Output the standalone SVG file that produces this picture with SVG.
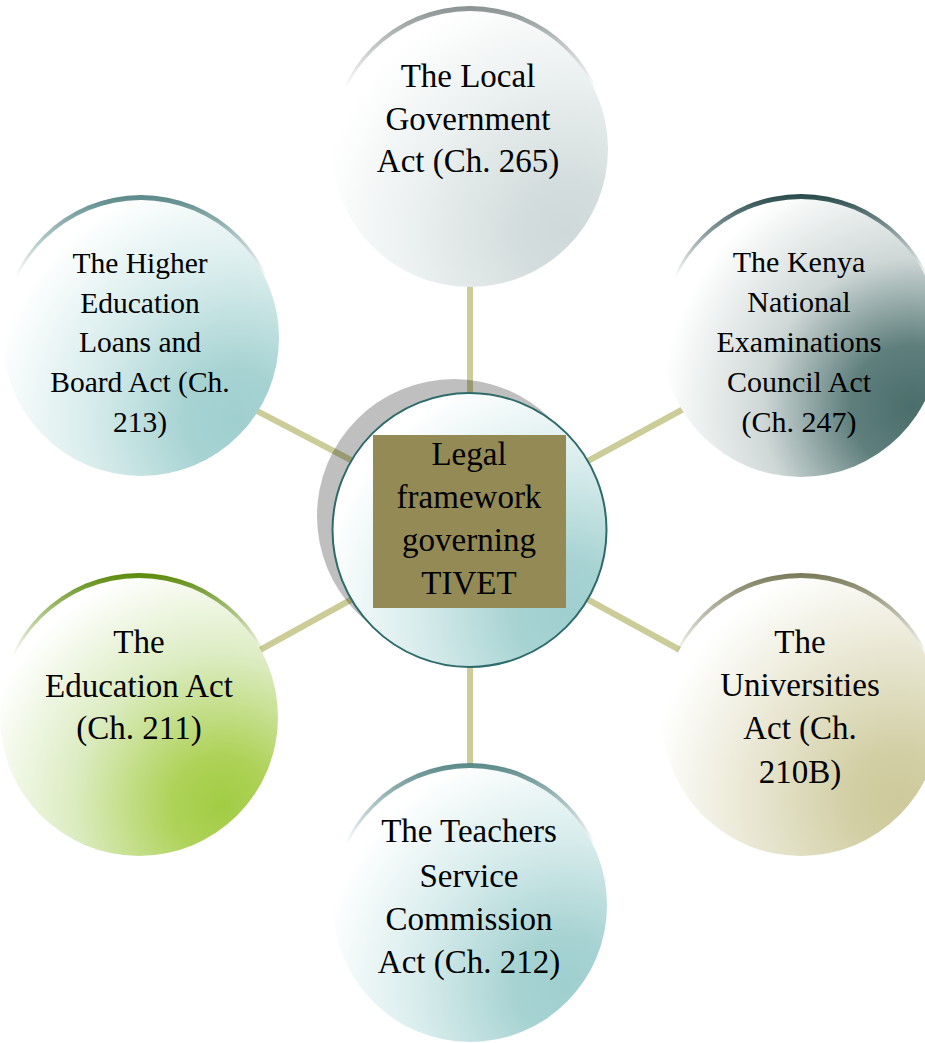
<svg xmlns="http://www.w3.org/2000/svg" width="925" height="1043" viewBox="0 0 925 1043">
<defs>
<style>
.lbl{font-family:"Liberation Serif","Times New Roman",serif;fill:#000;text-anchor:middle}
.conn{stroke:#cccc99;stroke-width:6;fill:none}
</style>
<radialGradient id="gGray" cx="0.85" cy="0.8" r="0.9" fx="0.85" fy="0.8">
<stop offset="0" stop-color="#cfd9d9"/><stop offset="0.2" stop-color="#d4dddd"/><stop offset="0.6" stop-color="#eaefef"/><stop offset="1" stop-color="#ffffff"/>
</radialGradient>
<radialGradient id="gDark" cx="0.9" cy="0.75" r="0.9" fx="0.9" fy="0.75">
<stop offset="0" stop-color="#4a6e6b"/><stop offset="0.25" stop-color="#5f7f7d"/><stop offset="0.6" stop-color="#cfd8d7"/><stop offset="1" stop-color="#ffffff"/>
</radialGradient>
<radialGradient id="gTeal" cx="0.85" cy="0.8" r="0.9" fx="0.85" fy="0.8">
<stop offset="0" stop-color="#a0cfcf"/><stop offset="0.2" stop-color="#a6d2d2"/><stop offset="0.6" stop-color="#d8ecec"/><stop offset="1" stop-color="#ffffff"/>
</radialGradient>
<radialGradient id="gGreen" cx="0.8" cy="0.82" r="0.9" fx="0.8" fy="0.82">
<stop offset="0" stop-color="#a2cc44"/><stop offset="0.2" stop-color="#aed258"/><stop offset="0.6" stop-color="#dcecc2"/><stop offset="1" stop-color="#ffffff"/>
</radialGradient>
<radialGradient id="gKhaki" cx="0.85" cy="0.8" r="0.9" fx="0.85" fy="0.8">
<stop offset="0" stop-color="#cdc99b"/><stop offset="0.2" stop-color="#d2cfa5"/><stop offset="0.6" stop-color="#e9e7d3"/><stop offset="1" stop-color="#ffffff"/>
</radialGradient>
<linearGradient id="aGray" x1="0" y1="0" x2="0" y2="1">
<stop offset="0" stop-color="#8a9292"/><stop offset="0.3" stop-color="#8a9292" stop-opacity="0"/>
</linearGradient>
<linearGradient id="aDark" x1="0" y1="0" x2="0" y2="1">
<stop offset="0" stop-color="#27494a"/><stop offset="0.3" stop-color="#27494a" stop-opacity="0"/>
</linearGradient>
<linearGradient id="aTeal" x1="0" y1="0" x2="0" y2="1">
<stop offset="0" stop-color="#5a8888"/><stop offset="0.3" stop-color="#5a8888" stop-opacity="0"/>
</linearGradient>
<linearGradient id="aGreen" x1="0" y1="0" x2="0" y2="1">
<stop offset="0" stop-color="#5a8a0a"/><stop offset="0.3" stop-color="#5a8a0a" stop-opacity="0"/>
</linearGradient>
<linearGradient id="aKhaki" x1="0" y1="0" x2="0" y2="1">
<stop offset="0" stop-color="#7a7a5a"/><stop offset="0.3" stop-color="#7a7a5a" stop-opacity="0"/>
</linearGradient>
</defs>
<rect width="925" height="1043" fill="#ffffff"/>

<g id="connectors">
<line class="conn" x1="470" y1="250" x2="470" y2="420"/>
<line class="conn" x1="470" y1="640" x2="470" y2="800"/>
<line class="conn" x1="370" y1="470" x2="240" y2="402"/>
<line class="conn" x1="365" y1="592" x2="240" y2="661"/>
<line class="conn" x1="575" y1="468" x2="700" y2="400"/>
<line class="conn" x1="574" y1="592" x2="700" y2="661"/>
</g>

<g id="node-local-government">
<circle cx="470" cy="144" r="138" fill="url(#aGray)"/>
<circle cx="470" cy="149" r="138" fill="url(#gGray)"/>
<text class="lbl" font-size="33" x="468" y="87">The Local</text>
<text class="lbl" font-size="33" x="468" y="130">Government</text>
<text class="lbl" font-size="33" x="468" y="172">Act (Ch. 265)</text>
</g>

<g id="node-higher-education">
<circle cx="141" cy="333" r="138" fill="url(#aTeal)"/>
<circle cx="141" cy="338" r="138" fill="url(#gTeal)"/>
<text class="lbl" font-size="29.5" x="140" y="273">The Higher</text>
<text class="lbl" font-size="29.5" x="140" y="313">Education</text>
<text class="lbl" font-size="29.5" x="140" y="352">Loans and</text>
<text class="lbl" font-size="29.5" x="140" y="392">Board Act (Ch.</text>
<text class="lbl" font-size="29.5" x="140" y="432">213)</text>
</g>

<g id="node-kenya-national-examinations">
<circle cx="801" cy="333" r="139" fill="url(#aDark)"/>
<circle cx="801" cy="338" r="139" fill="url(#gDark)"/>
<text class="lbl" font-size="30" x="799" y="272">The Kenya</text>
<text class="lbl" font-size="30" x="799" y="312">National</text>
<text class="lbl" font-size="30" x="799" y="352">Examinations</text>
<text class="lbl" font-size="30" x="799" y="392">Council Act</text>
<text class="lbl" font-size="30" x="799" y="432">(Ch. 247)</text>
</g>

<g id="node-education-act">
<circle cx="139" cy="712" r="139" fill="url(#aGreen)"/>
<circle cx="139" cy="717" r="139" fill="url(#gGreen)"/>
<text class="lbl" font-size="33" x="139" y="653">The</text>
<text class="lbl" font-size="33" x="139" y="697">Education Act</text>
<text class="lbl" font-size="33" x="139" y="739">(Ch. 211)</text>
</g>

<g id="node-universities-act">
<circle cx="801" cy="712" r="139" fill="url(#aKhaki)"/>
<circle cx="801" cy="717" r="139" fill="url(#gKhaki)"/>
<text class="lbl" font-size="33" x="800" y="653">The</text>
<text class="lbl" font-size="33" x="800" y="696">Universities</text>
<text class="lbl" font-size="33" x="800" y="739">Act (Ch.</text>
<text class="lbl" font-size="33" x="800" y="783">210B)</text>
</g>

<g id="node-teachers-service">
<circle cx="470" cy="900" r="137" fill="url(#aTeal)"/>
<circle cx="470" cy="905" r="137" fill="url(#gTeal)"/>
<text class="lbl" font-size="33" x="469" y="842">The Teachers</text>
<text class="lbl" font-size="33" x="469" y="887">Service</text>
<text class="lbl" font-size="33" x="469" y="930">Commission</text>
<text class="lbl" font-size="33" x="469" y="973">Act (Ch. 212)</text>
</g>

<g id="node-center">
<circle cx="454" cy="516" r="137" fill="#000000" fill-opacity="0.25"/>
<circle cx="469.5" cy="530" r="137" fill="url(#gTeal)" stroke="#2f6b6a" stroke-width="2"/>
<rect x="373" y="435" width="193" height="173" fill="#938a55"/>
<text class="lbl" font-size="33" x="469" y="465">Legal</text>
<text class="lbl" font-size="33" x="469" y="508">framework</text>
<text class="lbl" font-size="33" x="469" y="551">governing</text>
<text class="lbl" font-size="33" x="469" y="594">TIVET</text>
</g>
</svg>
